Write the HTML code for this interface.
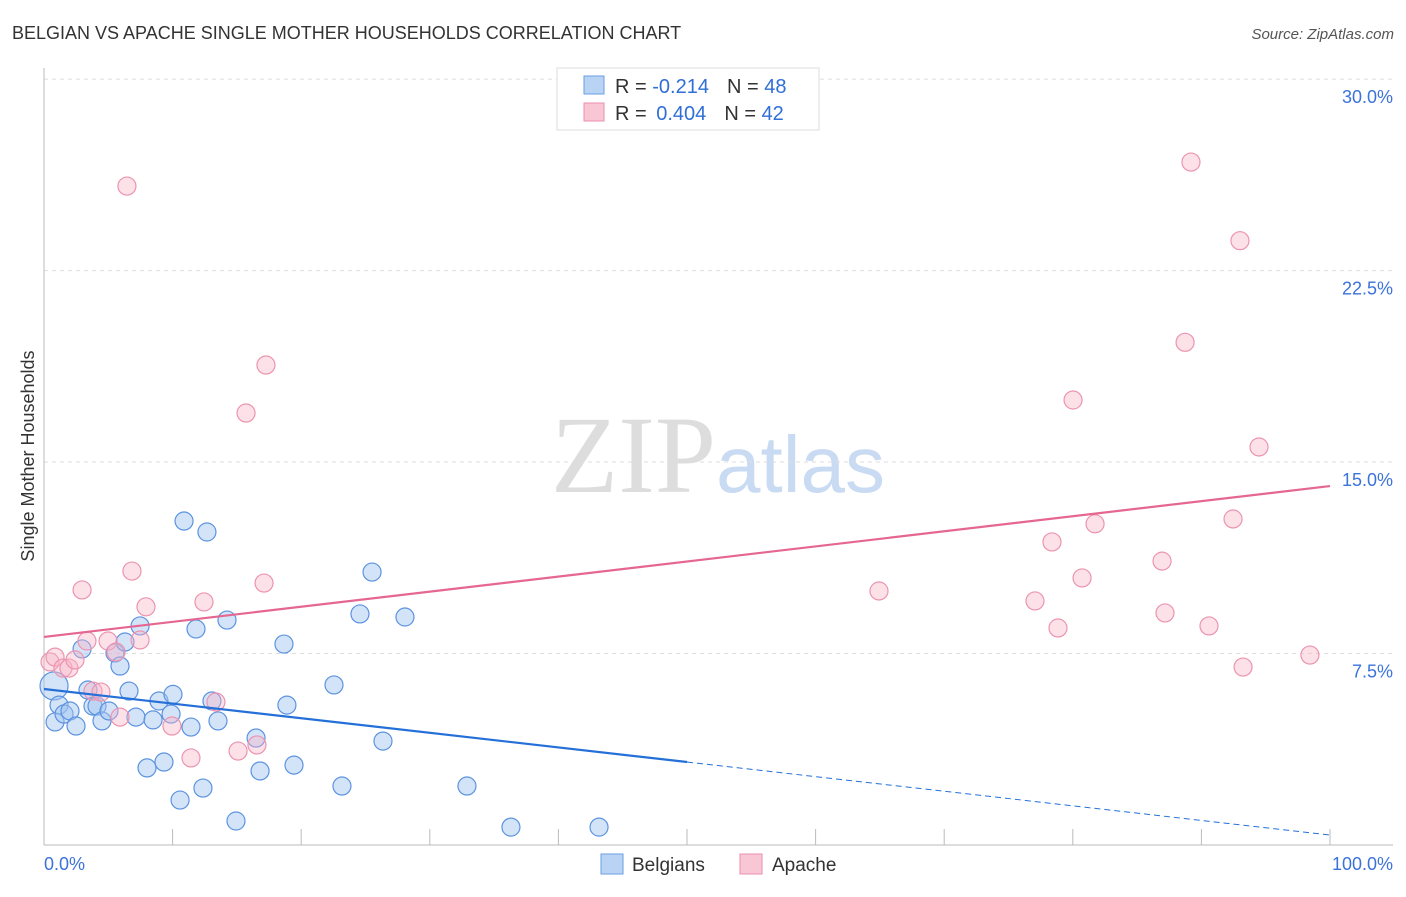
<!DOCTYPE html>
<html><head><meta charset="utf-8"><style>
body{margin:0;background:#fff;font-family:"Liberation Sans",sans-serif}
svg text{font-family:"Liberation Sans",sans-serif}
</style></head><body>
<svg id="c" width="1406" height="892">
<text x="12" y="39" font-size="18" fill="#333">BELGIAN VS APACHE SINGLE MOTHER HOUSEHOLDS CORRELATION CHART</text>
<text x="1394" y="39" font-size="15" fill="#555" font-style="italic" text-anchor="end">Source: ZipAtlas.com</text>
<text x="0" y="0" transform="translate(34,456) rotate(-90)" font-size="18" fill="#333" text-anchor="middle">Single Mother Households</text>
<text x="716" y="492" font-size="110" fill="#ddd" text-anchor="end" style="font-family:'Liberation Serif',serif">ZIP</text>
<text x="716" y="492" font-size="80" fill="#c9daf3">atlas</text>
<g id="grid"></g><g id="marks"></g>
<g>
<rect x="557" y="68" width="262" height="62" fill="#fff" stroke="#ddd"/>
<rect x="584" y="76" width="20" height="18" fill="#b9d3f5" stroke="#6a9de3"/>
<rect x="584" y="103" width="20" height="18" fill="#f9c6d6" stroke="#ea8fab"/>
<text x="615" y="93" font-size="20" fill="#333">R = <tspan fill="#2f6fd6">-0.214</tspan><tspan dx="18">N = </tspan><tspan fill="#2f6fd6">48</tspan></text>
<text x="615" y="120" font-size="20" fill="#333">R = <tspan fill="#2f6fd6" dx="4">0.404</tspan><tspan dx="18">N = </tspan><tspan fill="#2f6fd6">42</tspan></text>
</g>
<g>
<rect x="601" y="854" width="22" height="20" fill="#b9d3f5" stroke="#6a9de3"/>
<text x="632" y="871" font-size="19" fill="#333">Belgians</text>
<rect x="740" y="854" width="22" height="20" fill="#f9c6d6" stroke="#ea8fab"/>
<text x="772" y="871" font-size="19" fill="#333">Apache</text>
</g>
</svg>
<script>
const yTicks=[7.5,15,22.5,30];
const yTickLabels=["7.5%","15.0%","22.5%","30.0%"];
const belgX=[0.78,0.86,1.17,1.56,2.02,2.49,2.96,3.42,3.81,4.12,4.51,5.05,5.52,5.91,6.3,6.61,7.15,7.47,8.01,8.48,8.94,9.33,9.88,10.03,10.58,10.89,11.43,11.82,12.36,12.67,13.06,13.53,14.23,14.93,16.49,16.8,18.66,18.89,19.44,22.55,23.17,24.57,25.51,26.36,28.07,32.89,36.31,43.16];
const belgY=[6.23,4.82,5.48,5.13,5.25,4.66,7.68,6.07,5.44,5.44,4.86,5.25,7.52,7.01,7.95,6.03,5.01,8.58,3.02,4.9,5.64,3.25,5.13,5.9,1.76,12.69,4.62,8.46,2.23,12.26,5.64,4.86,8.81,0.94,4.19,2.9,7.87,5.48,3.13,6.27,2.31,9.05,10.69,4.07,8.93,2.31,0.7,0.7];
const apX=[0.47,0.86,1.48,1.94,2.41,2.96,3.34,3.81,4.43,4.98,5.6,5.91,6.45,6.84,7.47,7.93,9.95,11.43,12.44,13.37,15.09,15.71,16.56,17.11,17.26,64.93,77.06,78.38,78.85,80.02,80.72,81.73,86.94,87.17,88.73,89.19,90.59,92.46,93.0,93.24,94.48,98.44];
const apY=[7.17,7.36,6.93,6.93,7.25,9.99,7.99,6.03,5.99,7.99,7.56,5.01,25.81,10.73,8.03,9.33,4.66,3.41,9.52,5.6,3.68,16.92,3.92,10.26,18.8,9.95,9.56,11.87,8.5,17.43,10.46,12.58,11.12,9.09,19.69,26.75,8.58,12.77,23.67,6.97,15.59,7.44];
const belgLine=[6.11,-5.72];
const apLine=[8.15,5.91];
const X=v=>44+v*12.86, Y=v=>845-v*25.53;
const NS="http://www.w3.org/2000/svg";
function mk(t,a,p){const e=document.createElementNS(NS,t);for(const k in a)e.setAttribute(k,a[k]);p.appendChild(e);return e;}
const g=document.getElementById('grid'), m=document.getElementById('marks');
yTicks.forEach((t,i)=>{
 const l=mk('line',{x1:44,x2:1393,y1:Y(t),y2:Y(t),stroke:'#ddd','stroke-dasharray':'4,4'},g);
 
 
 const tx=mk('text',{x:1393,y:Y(t)+24,'font-size':18,fill:'#3b73d9','text-anchor':'end'},g);
 tx.textContent=yTickLabels[i];
 
 
});
mk('line',{x1:44,x2:44,y1:68,y2:845,stroke:'#bbb'},g);
mk('line',{x1:44,x2:1393,y1:845,y2:845,stroke:'#bbb'},g);
for(let i=1;i<=10;i++){const t=mk('line',{x1:X(i*10),x2:X(i*10),y1:829,y2:845,stroke:'#bbb'},g);
 
 }
const x0=mk('text',{x:44,y:870,'font-size':18,fill:'#3b73d9'},g);x0.textContent='0.0%';


const x1=mk('text',{x:1393,y:870,'font-size':18,fill:'#3b73d9','text-anchor':'end'},g);x1.textContent='100.0%';


belgX.forEach((v,i)=>{const c=mk('circle',{cx:X(v),cy:Y(belgY[i]),r:i==0?14:9,fill:'rgba(160,196,240,0.45)',stroke:'#5c93e0','stroke-width':1.2},m);
 
 });
apX.forEach((v,i)=>{const c=mk('circle',{cx:X(v),cy:Y(apY[i]),r:9,fill:'rgba(247,180,201,0.4)',stroke:'#ec94b0','stroke-width':1.2},m);
 
 });
const bl=v=>belgLine[0]+belgLine[1]*v/100, al=v=>apLine[0]+apLine[1]*v/100;
const a=mk('line',{x1:X(0),y1:Y(al(0)),x2:X(100),y2:Y(al(100)),stroke:'#e56690','stroke-width':2.2},m);


const b=mk('line',{x1:X(0),y1:Y(bl(0)),x2:X(50),y2:Y(bl(50)),stroke:'#2470d8','stroke-width':2.2},m);


const bd=mk('line',{x1:X(50),y1:Y(bl(50)),x2:X(100),y2:Y(bl(100)),stroke:'#2470d8','stroke-width':1,'stroke-dasharray':'6,4'},m);


</script>
</body></html>
